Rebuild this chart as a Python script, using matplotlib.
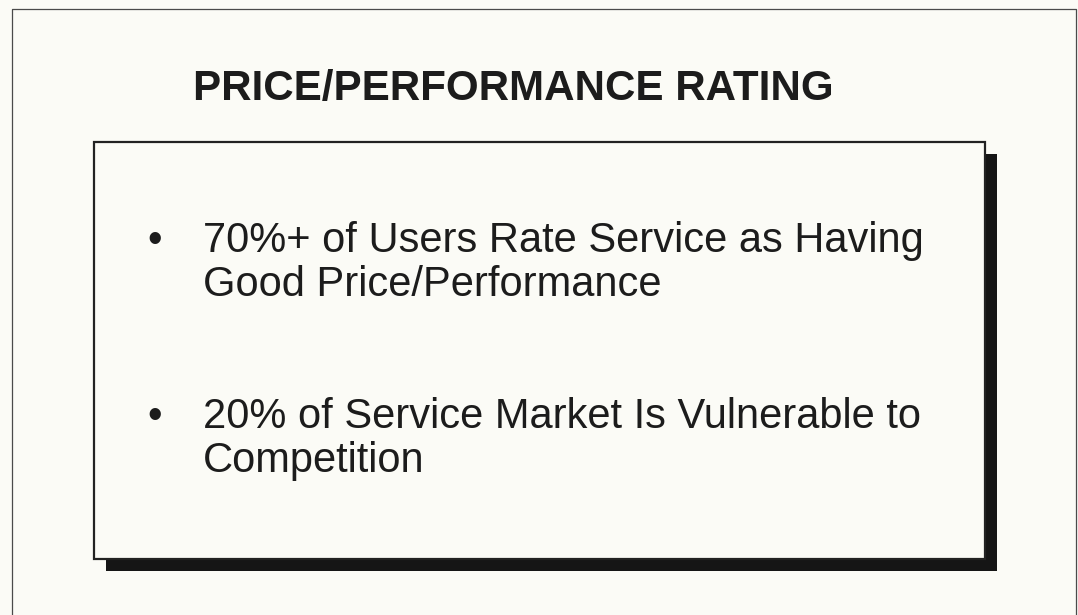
import matplotlib
matplotlib.use('Agg')
import matplotlib.pyplot as plt
from matplotlib.patches import Rectangle

# slide content
title = 'PRICE/PERFORMANCE RATING'
bullet_lines = [
    ['70%+ of Users Rate Service as Having', 'Good Price/Performance'],
    ['20% of Service Market Is Vulnerable to', 'Competition'],
]
bullet_baselines = [252, 428]

W, H = 1078, 615
bg = '#fbfbf6'
ink = '#1c1c1c'

plt.rcParams['font.family'] = ['Liberation Sans', 'DejaVu Sans']

fig = plt.figure(figsize=(W / 100, H / 100), dpi=100, facecolor=bg)
ax = fig.add_axes([0, 0, 1, 1])
ax.set_xlim(0, W)
ax.set_ylim(H, 0)
ax.axis('off')
ax.set_facecolor(bg)

# outer frame (left, top, right)
ax.plot([12, 12, 1076, 1076], [H + 5, 9, 9, H + 5], color='#4a4a4a', lw=0.9)

# drop shadow then box
box_x0, box_y0, box_x1, box_y1 = 94, 142, 985, 559
ax.add_patch(Rectangle((box_x0 + 12, box_y0 + 12), box_x1 - box_x0, box_y1 - box_y0,
                       facecolor='#151515', edgecolor='none'))
ax.add_patch(Rectangle((box_x0, box_y0), box_x1 - box_x0, box_y1 - box_y0,
                       facecolor=bg, edgecolor='#222222', lw=1.6))

# title
ax.text(193, 100, title, fontsize=30.3, fontweight='bold', color=ink,
        ha='left', va='baseline')

# bullets
for lines, base in zip(bullet_lines, bullet_baselines):
    ax.text(155, base, '\u2022', fontsize=30, color=ink, ha='center', va='baseline')
    for i, line in enumerate(lines):
        ax.text(203, base + i * 44, line, fontsize=30, color=ink,
                ha='left', va='baseline')

fig.savefig('out.png', dpi=100, facecolor=bg)
